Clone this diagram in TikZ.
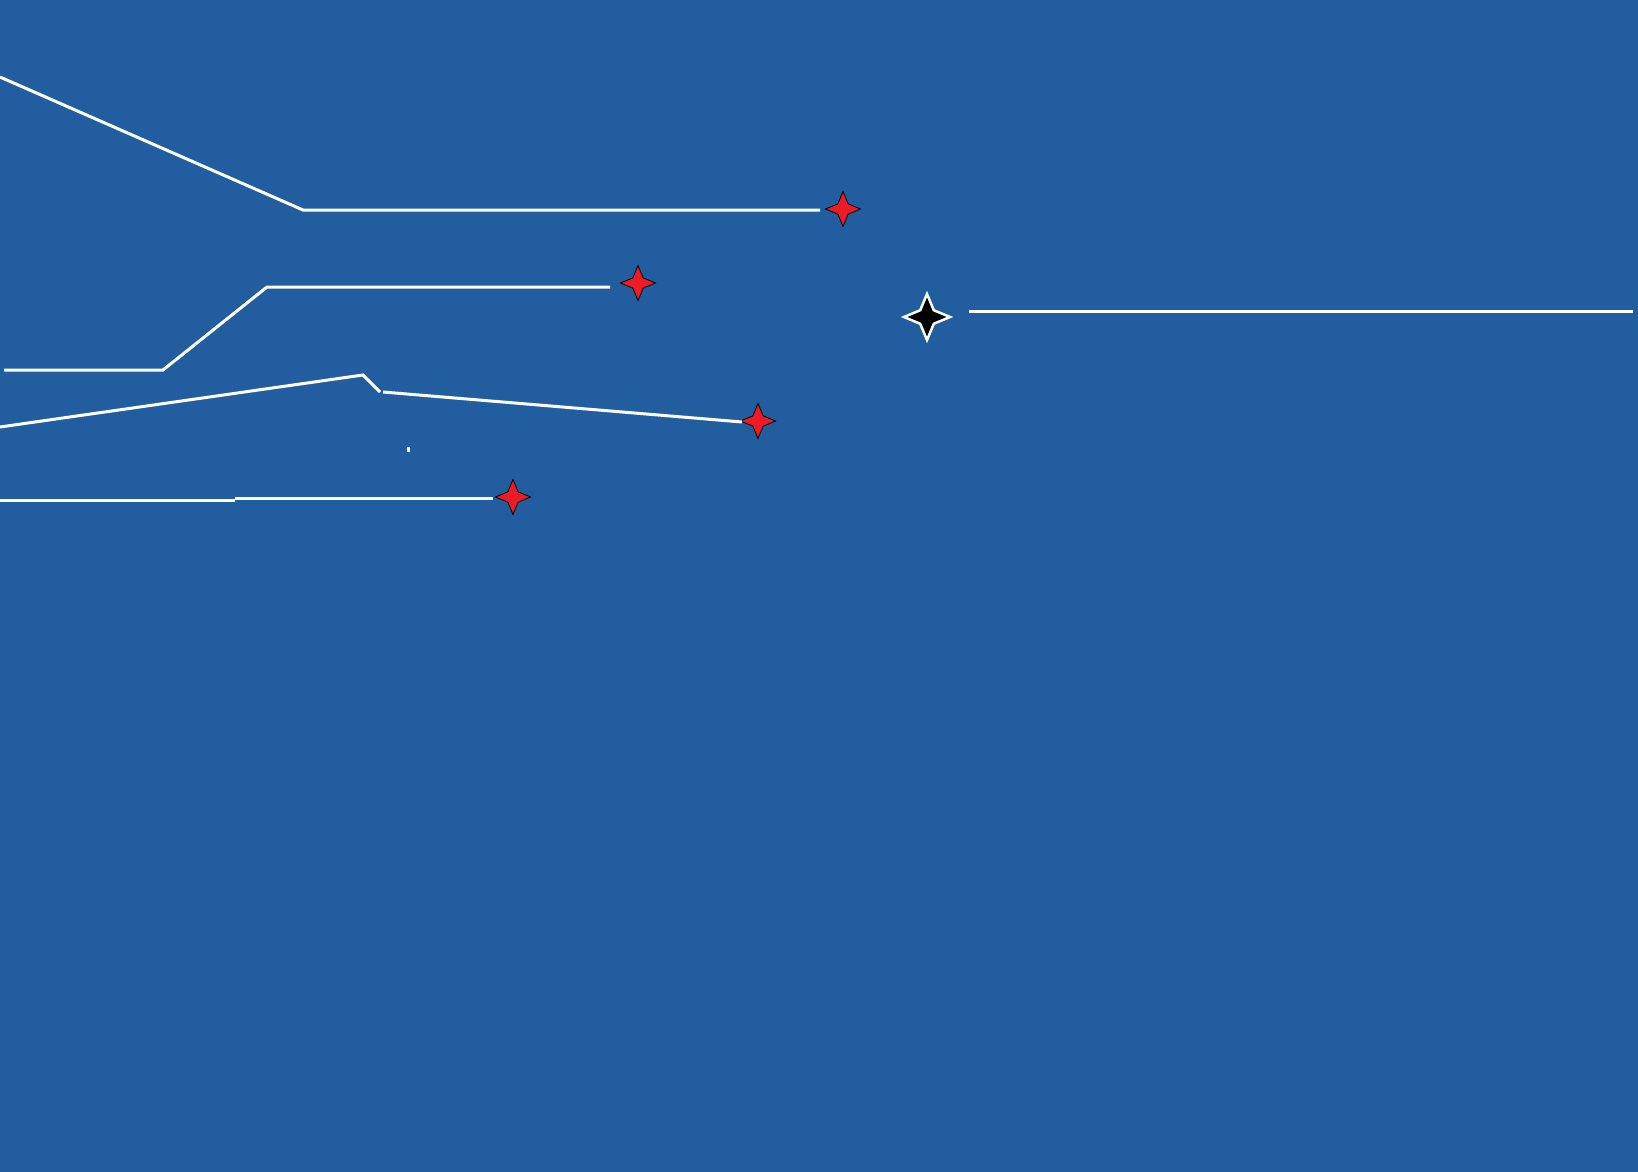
\documentclass[tikz,border=0pt]{standalone}
\usetikzlibrary{shapes.geometric}
\definecolor{bg}{RGB}{34,94,159}
\definecolor{starred}{RGB}{237,28,36}
\begin{document}
\begin{tikzpicture}[x=1pt,y=-1pt,
  wire/.style={white, line width=3pt},
  redstar/.style={star, star points=4, star point ratio=2.4, minimum size=35pt, inner sep=0pt, fill=starred, draw=black, line width=0.8pt},
  blackstar/.style={star, star points=4, star point ratio=2.4, minimum size=46pt, inner sep=0pt, fill=black, draw=white, line width=2.5pt}]
\fill[bg] (0,0) rectangle (1638,1172);
\useasboundingbox (0,0) rectangle (1638,1172);
\node[redstar] (s1) at (843,209) {};
\node[redstar] (s2) at (638,283) {};
\node[redstar] (s3) at (758,421) {};
\node[redstar] (s4) at (513,497) {};
\node[blackstar] (s0) at (927,317) {};
% line 1
\coordinate (a0) at (0,77);
\coordinate (a1) at (303,210);
\coordinate (a2) at (820,210);
\draw[wire] (a0) -- (a1) -- (a2);
% line 2
\coordinate (b0) at (4,370);
\coordinate (b1) at (163,370);
\coordinate (b2) at (267,287);
\coordinate (b3) at (610,287);
\draw[wire] (b0) -- (b1) -- (b2) -- (b3);
% line 3
\coordinate (c0) at (0,427);
\coordinate (c1) at (363,375);
\coordinate (c2) at (380,392);
\coordinate (c3) at (383,392);
\coordinate (c4) at (742,422);
\draw[wire] (c0) -- (c1) -- (c2);
\draw[wire] (c3) -- (c4);
\fill[white] (407,447) rectangle (410,452);
% line 4
\coordinate (d0) at (0,500);
\coordinate (d1) at (235,500);
\coordinate (d2) at (235,498);
\coordinate (d3) at (493,498);
\draw[wire] (d0) -- (d1);
\draw[wire] (d2) -- (d3);
% line 5
\coordinate (e0) at (969,311);
\coordinate (e1) at (1633,311);
\draw[wire] (e0) -- (e1);
\end{tikzpicture}
\end{document}
